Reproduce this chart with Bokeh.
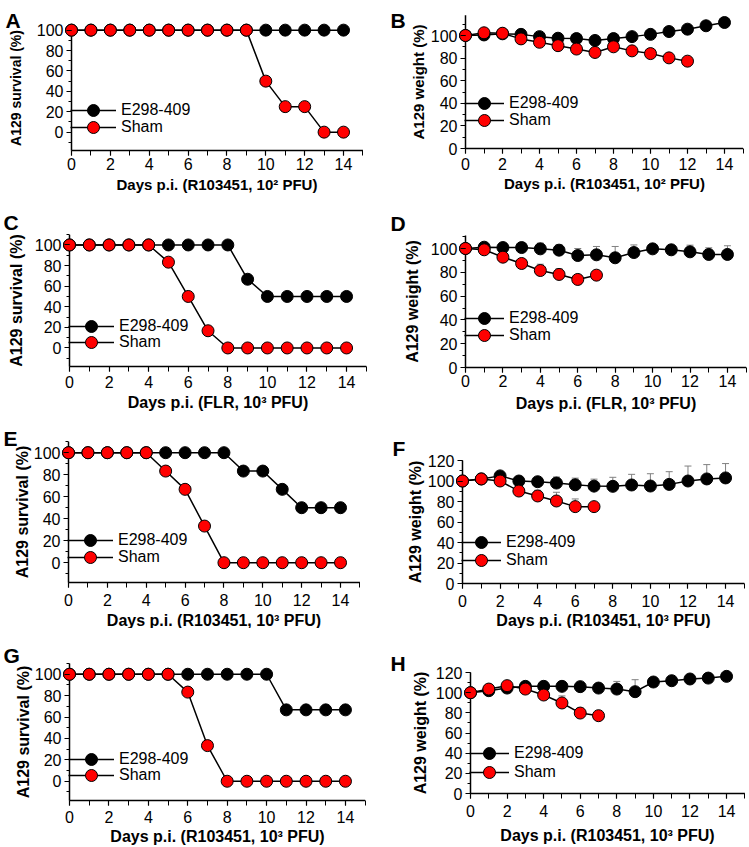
import numpy as np
from bokeh.plotting import figure
from bokeh.models import (ColumnDataSource, Legend, LegendItem, Label, Whisker, TeeHead,
                          SingleIntervalTicker, Range1d)
from bokeh.layouts import column, row
from bokeh.embed import file_html
from bokeh.resources import INLINE

# ---------------- data ----------------
DAYS = [0, 1, 2, 3, 4, 5, 6, 7, 8, 9, 10, 11, 12, 13, 14]
DAYS_12 = [0, 1, 2, 3, 4, 5, 6, 7, 8, 9, 10, 11, 12]
DAYS_7 = [0, 1, 2, 3, 4, 5, 6, 7]

SERIES = ["E298-409", "Sham"]

A_E298 = [100, 100, 100, 100, 100, 100, 100, 100, 100, 100, 100, 100, 100, 100, 100]
A_SHAM = [100, 100, 100, 100, 100, 100, 100, 100, 100, 100, 50, 25, 25, 0, 0]

B_E298 = [100, 100.5, 101.5, 101, 99, 97.6, 97.3, 95.6, 97.3, 99, 101, 103.5, 105.6, 108.6, 111.5]
B_SHAM = [100, 102.4, 102, 97, 94, 91, 88, 85, 90, 86.4, 84, 80.2, 77.3]

C_E298 = [100, 100, 100, 100, 100, 100, 100, 100, 100, 66.7, 50, 50, 50, 50, 50]
C_SHAM = [100, 100, 100, 100, 100, 83.3, 50, 16.7, 0, 0, 0, 0, 0, 0, 0]

D_E298 = [100, 101.1, 100.8, 100.8, 99.7, 98.6, 94.1, 94.7, 92.2, 96.6, 99.7, 98.9, 97.2, 95.0, 95.0]
D_E298_ERR = [0, 0, 0, 4.2, 4.8, 4.5, 5.9, 7.0, 9.5, 6.4, 0, 3.0, 5.6, 5.6, 7.3]
D_SHAM = [100, 98.9, 92.7, 87.4, 81.5, 78.2, 74.0, 77.6]
D_SHAM_ERR = [0, 0, 0, 0, 5.3, 4.8, 0, 0]

E_E298 = [100, 100, 100, 100, 100, 100, 100, 100, 100, 83.3, 83.3, 66.7, 50, 50, 50]
E_SHAM = [100, 100, 100, 100, 100, 83.3, 66.7, 33.3, 0, 0, 0, 0, 0, 0, 0]

F_E298 = [100, 102, 105, 100, 99.3, 98, 96.3, 95, 94.8, 96.1, 95.1, 96.7, 100, 102, 103]
F_E298_ERR = [0, 0, 0, 0, 0, 5.9, 6.5, 6.8, 8.8, 10.4, 12, 12.4, 14.6, 14, 14]
F_SHAM = [100, 102, 100, 90.2, 85.4, 80.5, 75, 75]
F_SHAM_ERR = [0, 0, 0, 0, 5.5, 8.5, 7.5, 0]

G_E298 = [100, 100, 100, 100, 100, 100, 100, 100, 100, 100, 100, 66.7, 66.7, 66.7, 66.7]
G_SHAM = [100, 100, 100, 100, 100, 100, 83.3, 33.3, 0, 0, 0, 0, 0, 0, 0]

H_E298 = [100, 102, 104.6, 106.3, 106.3, 106.3, 106, 104.6, 103.6, 101, 110.6, 111.9, 113.6, 114.5, 116.2]
H_E298_ERR = [0, 0, 0, 0, 5, 0, 0, 0, 7.6, 11.9, 0, 0, 0, 0, 0]
H_SHAM = [100, 103.6, 107, 103.6, 97.7, 89.8, 79.8, 77.2]
H_SHAM_ERR = [0, 0, 0, 0, 0, 7, 5, 0]

SURV_LABEL = "A129 survival (%)"
WEIGHT_LABEL = "A129 weight (%)"
XLAB_R2 = "Days p.i. (R103451, 10\u00b2 PFU)"
XLAB_FLR3 = "Days p.i. (FLR, 10\u00b3 PFU)"
XLAB_R3 = "Days p.i. (R103451, 10\u00b3 PFU)"

SURV_BOUNDS = (-18, 110)
X_BOUNDS = (0, 15)

FONT = "Liberation Sans"
RED = "#ff0000"
BLACK = "#000000"
ERR_COL = "#808080"


def make_panel(letter, letter_pos, e_days, e_vals, s_days, s_vals, e_err, s_err,
               ylab, xlab, size, x0px, ppd, axis_px, ppu, y_bounds,
               leg_vals, glyph_w, ylab_standoff, x_standoffs,
               ytitle_size="16px", xtitle_size="16px"):
    W, H = size
    yb0 = y_bounds[0]
    x_start = -x0px / ppd
    x_end = (W - x0px) / ppd
    y_top = yb0 + axis_px / ppu
    y_bot = yb0 - (H - axis_px) / ppu

    p = figure(width=W, height=H, x_range=Range1d(x_start, x_end),
               y_range=Range1d(y_bot, y_top),
               output_backend="svg", toolbar_location=None,
               min_border_left=0, min_border_right=0, min_border_top=0,
               min_border_bottom=0)
    p.outline_line_color = None
    p.grid.visible = False
    p.background_fill_color = "white"
    p.border_fill_color = "white"

    xa = p.xaxis[0]
    xa.ticker = SingleIntervalTicker(interval=2, num_minor_ticks=2)
    xa.bounds = X_BOUNDS
    xa.fixed_location = yb0
    xa.axis_label = xlab
    ya = p.yaxis[0]
    ya.ticker = SingleIntervalTicker(interval=20, num_minor_ticks=2)
    ya.bounds = y_bounds
    ya.fixed_location = 0
    ya.axis_label = ylab
    for ax in (xa, ya):
        ax.axis_line_color = None
        ax.major_tick_line_color = BLACK
        ax.minor_tick_line_color = BLACK
        ax.major_tick_line_width = 1.2
        ax.minor_tick_line_width = 1
        ax.major_tick_in = 0
        ax.minor_tick_in = 0
        ax.major_label_text_font = FONT
        ax.major_label_text_font_size = "16px"
        ax.major_label_text_color = BLACK
        ax.axis_label_text_font = FONT
        ax.axis_label_text_font_style = "bold"
        ax.axis_label_text_color = BLACK
    xa.axis_label_text_font_size = xtitle_size
    ya.axis_label_text_font_size = ytitle_size
    xa.major_tick_out = 5
    xa.minor_tick_out = 5
    xa.major_label_standoff = x_standoffs[0]
    xa.axis_label_standoff = x_standoffs[1]
    ya.major_tick_out = 5
    ya.minor_tick_out = 3
    ya.major_label_standoff = 3
    ya.axis_label_standoff = ylab_standoff

    # axis lines, spanning the axis bounds
    p.line([0, 0], list(y_bounds), line_color=BLACK, line_width=1.5)
    p.line(list(X_BOUNDS), [yb0, yb0], line_color=BLACK, line_width=1.5)

    # error bars (upper only)
    for days, vals, err in ((e_days, e_vals, e_err), (s_days, s_vals, s_err)):
        if err is None:
            continue
        d = np.array(days, dtype=float)
        v = np.array(vals, dtype=float)
        e = np.array(err, dtype=float)
        m = e > 0
        src = ColumnDataSource(dict(x=d[m], y=v[m], up=(v + e)[m]))
        w = Whisker(base="x", lower="y", upper="up", source=src, dimension="height",
                    line_color=ERR_COL, line_width=1,
                    upper_head=TeeHead(size=7, line_color=ERR_COL, line_width=1),
                    lower_head=None)
        p.add_layout(w)

    e_line = p.line(e_days, e_vals, line_color=BLACK, line_width=1.5)
    s_line = p.line(s_days, s_vals, line_color=BLACK, line_width=1.5)
    e_pts = p.scatter(e_days, e_vals, marker="circle", size=12, fill_color=BLACK,
                      line_color=BLACK, line_width=1)
    s_pts = p.scatter(s_days, s_vals, marker="circle", size=12, fill_color=RED,
                      line_color=BLACK, line_width=1)

    gh = 30
    for name, rends, yv in ((SERIES[0], [e_line, e_pts], leg_vals[0]),
                            (SERIES[1], [s_line, s_pts], leg_vals[1])):
        ypx = (yv - y_bot) * ppu - gh / 2
        leg = Legend(items=[LegendItem(label=name, renderers=rends)],
                     location=(x0px - 1, ypx), padding=0, margin=0, spacing=0,
                     glyph_width=glyph_w, glyph_height=gh, label_height=16,
                     label_standoff=5, border_line_color=None,
                     background_fill_alpha=0,
                     label_text_font=FONT, label_text_font_size="16px",
                     label_text_color=BLACK)
        p.add_layout(leg)

    lx, ly = letter_pos
    p.add_layout(Label(x=x_start + lx / ppd, y=y_top - ly / ppu,
                       text=letter, text_font=FONT, text_font_size="21px",
                       text_font_style="bold", text_color=BLACK,
                       text_baseline="alphabetic", text_align="left"))
    return p


LW, RW = 368, 379

pA = make_panel("A", (5, 20), DAYS, A_E298, DAYS, A_SHAM, None, None,
                SURV_LABEL, XLAB_R2, (LW, 200), 71, 19.43, 150, 1.02, (-18, 105),
                (21, 4.5), 46, 10, (2, 3), ytitle_size="14px", xtitle_size="15px")
pB = make_panel("B", (22, 20), DAYS, B_E298, DAYS_12, B_SHAM, None, None,
                WEIGHT_LABEL, XLAB_R2, (RW, 200), 97, 18.5, 148, 1.13, (0, 118),
                (40, 25), 40, 1, (4, 2), ytitle_size="15px", xtitle_size="15px")
pC = make_panel("C", (3, 22), DAYS, C_E298, DAYS, C_SHAM, None, None,
                SURV_LABEL, XLAB_FLR3, (LW, 212), 69, 19.79, 166, 1.03, SURV_BOUNDS,
                (21, 5), 46, 7, (4, 3))
pD = make_panel("D", (22, 23), DAYS, D_E298, DAYS_7, D_SHAM, D_E298_ERR, D_SHAM_ERR,
                WEIGHT_LABEL, XLAB_FLR3, (RW, 212), 97, 18.71, 167, 1.19, (0, 111),
                (41, 27), 40, 7, (2, 5))
pE = make_panel("E", (3, 26), DAYS, E_E298, DAYS, E_SHAM, None, None,
                SURV_LABEL, XLAB_R3, (LW, 216), 68, 19.43, 170, 1.10, SURV_BOUNDS,
                (20, 5), 46, 0, (6, 3))
pF = make_panel("F", (24, 36), DAYS, F_E298, DAYS_7, F_SHAM, F_E298_ERR, F_SHAM_ERR,
                WEIGHT_LABEL, XLAB_R3, (RW, 216), 94, 18.79, 171, 1.025, (0, 120),
                (40, 22), 40, 1, (6, 2))
pG = make_panel("G", (3, 27), DAYS, G_E298, DAYS, G_SHAM, None, None,
                SURV_LABEL, XLAB_R3, (LW, 217), 69, 19.71, 172, 1.07, SURV_BOUNDS,
                (20, 5), 46, 0, (5, 2))
pH = make_panel("H", (22, 35), DAYS, H_E298, DAYS_7, H_SHAM, H_E298_ERR, H_SHAM_ERR,
                WEIGHT_LABEL, XLAB_R3, (RW, 217), 102, 18.29, 165, 1.008, (0, 120),
                (40, 21), 40, 4, (6, 7))

layout = column(row(pA, pB), row(pC, pD), row(pE, pF), row(pG, pH))

open("out.html", "w").write(file_html(layout, INLINE))
